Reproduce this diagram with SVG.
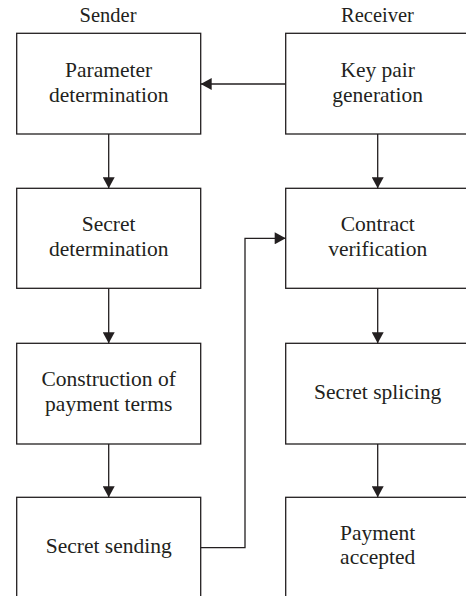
<svg xmlns="http://www.w3.org/2000/svg" width="466" height="596" viewBox="0 0 466 596">
<defs>
<style>
.box{fill:#fff;stroke:#231f20;stroke-width:1.3}
.t{font-family:"Liberation Serif","Times New Roman",serif;font-size:21.5px;fill:#231f20;text-anchor:middle}
.h{font-family:"Liberation Serif","Times New Roman",serif;font-size:20.5px;fill:#231f20;text-anchor:middle}
.c{fill:none;stroke:#231f20;stroke-width:1.3}
</style>
<marker id="ah" markerUnits="userSpaceOnUse" markerWidth="12" markerHeight="12" viewBox="0 0 11 12" refX="11" refY="6" orient="auto">
<path d="M0,0 L11,6 L0,12 Z" fill="#231f20"/>
</marker>
</defs>
<rect width="466" height="596" fill="#fff"/>
<text class="h" x="108" y="22">Sender</text>
<text class="h" x="377.5" y="22">Receiver</text>
<g id="n1"><rect class="box" x="16.7" y="33.3" width="184" height="100.7"/><text class="t" x="108.7" y="77">Parameter</text><text class="t" x="108.7" y="101.5">determination</text></g>
<g id="n2"><rect class="box" x="16.7" y="188.3" width="184" height="100"/><text class="t" x="108.7" y="231">Secret</text><text class="t" x="108.7" y="256">determination</text></g>
<g id="n3"><rect class="box" x="16.7" y="343.3" width="184" height="100.7"/><text class="t" x="108.7" y="386">Construction of</text><text class="t" x="108.7" y="411">payment terms</text></g>
<g id="n4"><rect class="box" x="16.7" y="497.3" width="184" height="110"/><text class="t" x="108.7" y="552.7">Secret sending</text></g>
<g id="n5"><rect class="box" x="285.7" y="33.3" width="184" height="100.7"/><text class="t" x="377.7" y="77">Key pair</text><text class="t" x="377.7" y="101.5">generation</text></g>
<g id="n6"><rect class="box" x="285.7" y="188.3" width="184" height="100"/><text class="t" x="377.7" y="231">Contract</text><text class="t" x="377.7" y="256">verification</text></g>
<g id="n7"><rect class="box" x="285.7" y="343.3" width="184" height="100.7"/><text class="t" x="377.7" y="399.3">Secret splicing</text></g>
<g id="n8"><rect class="box" x="285.7" y="497.3" width="184" height="110"/><text class="t" x="377.7" y="540">Payment</text><text class="t" x="377.7" y="564">accepted</text></g>
<g id="connectors">
<line class="c" x1="108.7" y1="134" x2="108.7" y2="188.3" marker-end="url(#ah)"/>
<line class="c" x1="108.7" y1="288.3" x2="108.7" y2="343.3" marker-end="url(#ah)"/>
<line class="c" x1="108.7" y1="444" x2="108.7" y2="497.3" marker-end="url(#ah)"/>
<line class="c" x1="377.7" y1="134" x2="377.7" y2="188.3" marker-end="url(#ah)"/>
<line class="c" x1="377.7" y1="288.3" x2="377.7" y2="343.3" marker-end="url(#ah)"/>
<line class="c" x1="377.7" y1="444" x2="377.7" y2="497.3" marker-end="url(#ah)"/>
<line class="c" x1="285.7" y1="84" x2="200.7" y2="84" marker-end="url(#ah)"/>
<polyline class="c" points="200.7,547.7 245,547.7 245,238.3 285.7,238.3" marker-end="url(#ah)"/>
</g>
</svg>
